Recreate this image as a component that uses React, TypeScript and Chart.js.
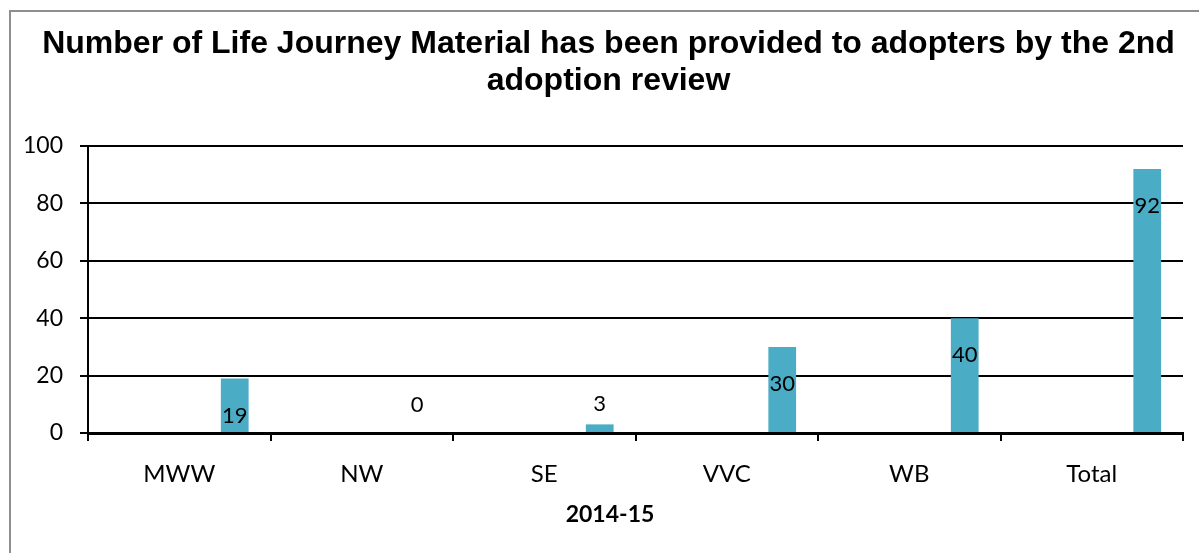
import React, { useEffect, useRef } from "react";
import { Chart, registerables } from "chart.js";

Chart.register(...registerables);

const titleLines = [
  "Number of Life Journey Material has been provided to adopters by the 2nd",
  "adoption review",
];
const xAxisTitle = "2014-15";
const categories = ["MWW", "NW", "SE", "VVC", "WB", "Total"];
const materialProvided = [19, 0, 3, 30, 40, 92];
// Excel chart keeps four blank series before the plotted one
const blankSeries1 = [null, null, null, null, null, null];
const blankSeries2 = [null, null, null, null, null, null];
const blankSeries3 = [null, null, null, null, null, null];
const blankSeries4 = [null, null, null, null, null, null];
const yTicks = [0, 20, 40, 60, 80, 100];

const BAR_COLOR = "#4BACC6";
const LABEL_FONT = "Lato";

const textPlugin = {
  id: "textPlugin",
  afterDraw(chart: any) {
    const ctx = chart.ctx;
    ctx.save();
    ctx.fillStyle = "#000";
    ctx.textAlign = "center";
    ctx.textBaseline = "alphabetic";
    ctx.font = 'bold 32px "Liberation Sans", Arial, sans-serif';
    ctx.fillText(titleLines[0], 608.5, 53);
    ctx.fillText(titleLines[1], 608.5, 90);
    ctx.font = `bold 23px ${LABEL_FONT}, sans-serif`;
    ctx.textBaseline = "middle";
    ctx.fillText(xAxisTitle, 610, 515);

    // data labels (inside end when the bar is tall enough, else above it)
    const meta = chart.getDatasetMeta(4);
    const ds = chart.data.datasets[4];
    ctx.font = `22px ${LABEL_FONT}, sans-serif`;
    ctx.textBaseline = "middle";
    meta.data.forEach((el: any, i: number) => {
      const v = ds.data[i];
      if (v === null || v === undefined) return;
      const inside = el.y + 37;
      const y = inside + 10 <= el.base ? inside : Math.min(el.y - 19, el.base - 28);
      ctx.fillText(String(v), el.x, y);
    });
    ctx.restore();
  },
};

export default function App() {
  const ref = useRef<HTMLCanvasElement | null>(null);
  useEffect(() => {
    if (!ref.current) return;
    const mk = (label: string, data: any[]) => ({
      label,
      data,
      backgroundColor: BAR_COLOR,
      borderWidth: 0,
    });
    const chart = new Chart(ref.current, {
      type: "bar",
      data: {
        labels: categories,
        datasets: [
          mk("s1", blankSeries1),
          mk("s2", blankSeries2),
          mk("s3", blankSeries3),
          mk("s4", blankSeries4),
          mk("2014-15", materialProvided),
        ],
      },
      options: {
        animation: false,
        responsive: false,
        devicePixelRatio: 1,
        events: [],
        categoryPercentage: 0.76,
        barPercentage: 1,
        layout: { padding: { top: 146, left: 0, right: 16, bottom: 0 } },
        plugins: {
          legend: { display: false },
          title: { display: false },
          tooltip: { enabled: false },
        },
        scales: {
          x: {
            afterFit(scale: any) {
              scale.height = 120;
            },
            grid: {
              offset: true,
              drawOnChartArea: false,
              drawTicks: true,
              tickLength: 8,
              color: "#000",
              lineWidth: 2,
            },
            border: { display: true, color: "#000", width: 3 },
            ticks: {
              color: "#000",
              font: { family: LABEL_FONT, size: 24 },
              padding: 19,
              maxRotation: 0,
            },
          },
          y: {
            min: 0,
            max: 100,
            afterFit(scale: any) {
              scale.width = 88;
            },
            afterBuildTicks(scale: any) {
              scale.ticks = yTicks.map((v) => ({ value: v }));
            },
            grid: {
              color: "#000",
              lineWidth: 2,
              tickLength: 8,
              drawTicks: true,
            },
            border: { display: true, color: "#000", width: 2 },
            ticks: {
              color: "#000",
              font: { family: LABEL_FONT, size: 23 },
              padding: 17,
            },
          },
        },
      },
      plugins: [textPlugin],
    });
    return () => chart.destroy();
  }, []);

  return (
    <div
      style={{
        position: "fixed",
        left: 0,
        top: 0,
        width: 1199,
        height: 553,
        overflow: "hidden",
        background: "#fff",
      }}
    >
      <div
        style={{
          position: "absolute",
          left: 9,
          top: 10,
          width: 1400,
          height: 800,
          border: "2px solid #8e8e8e",
          boxSizing: "border-box",
        }}
      />
      <canvas
        ref={ref}
        width={1199}
        height={553}
        style={{ position: "absolute", left: 0, top: 0, width: 1199, height: 553 }}
      />
    </div>
  );
}
